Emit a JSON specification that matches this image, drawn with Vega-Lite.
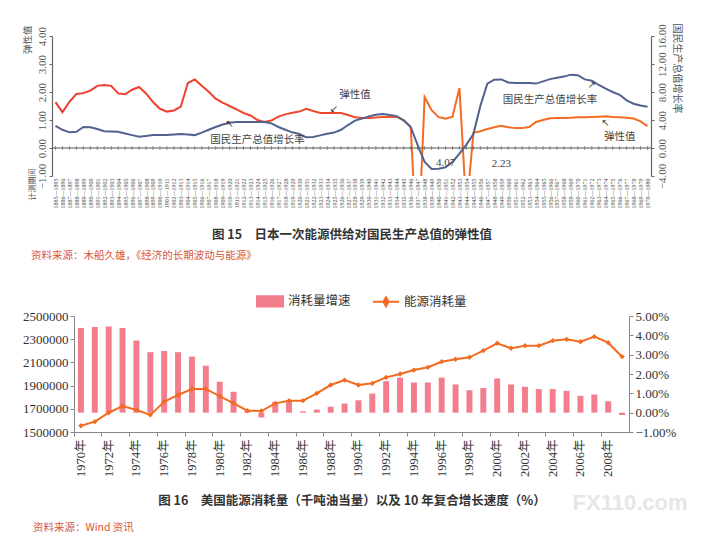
{
  "$schema": "https://vega.github.io/schema/vega-lite/v6.json",
  "background": "white",
  "padding": {"left": 22, "top": 22, "right": 5, "bottom": 5},
  "spacing": 140,
  "bounds": "flush",
  "center": true,
  "resolve": {"scale": {"color": "independent"}, "legend": {"color": "independent"}},
  "config": {
    "view": {"stroke": null},
    "axis": {"labelFont": "Liberation Serif", "titleFont": "Noto Sans CJK SC", "grid": false, "labelFlush": false, "labelOverlap": false},
    "title": {"font": "Noto Sans CJK SC"},
    "legend": {"labelFont": "Noto Sans CJK SC"},
    "text": {"font": "Noto Sans CJK SC"}
  },
  "datasets": {
    "jp": [
      {"p": "1885—1895", "e": 1.64, "g": 3.16},
      {"p": "1886—1896", "e": 1.28, "g": 2.60},
      {"p": "1887—1897", "e": 1.65, "g": 2.24},
      {"p": "1888—1898", "e": 1.93, "g": 2.32},
      {"p": "1889—1899", "e": 1.96, "g": 3.00},
      {"p": "1890—1900", "e": 2.05, "g": 2.96},
      {"p": "1891—1901", "e": 2.22, "g": 2.72},
      {"p": "1892—1902", "e": 2.25, "g": 2.40},
      {"p": "1893—1903", "e": 2.22, "g": 2.36},
      {"p": "1894—1904", "e": 1.95, "g": 2.32},
      {"p": "1895—1905", "e": 1.92, "g": 2.08},
      {"p": "1896—1906", "e": 2.08, "g": 1.84},
      {"p": "1897—1907", "e": 2.18, "g": 1.60},
      {"p": "1898—1908", "e": 1.95, "g": 1.72},
      {"p": "1899—1909", "e": 1.64, "g": 1.84},
      {"p": "1900—1910", "e": 1.40, "g": 1.84},
      {"p": "1901—1911", "e": 1.30, "g": 1.84},
      {"p": "1902—1912", "e": 1.34, "g": 1.92},
      {"p": "1903—1913", "e": 1.48, "g": 2.00},
      {"p": "1904—1914", "e": 2.32, "g": 1.92},
      {"p": "1905—1915", "e": 2.45, "g": 1.84},
      {"p": "1906—1916", "e": 2.22, "g": 2.20},
      {"p": "1907—1917", "e": 2.01, "g": 2.60},
      {"p": "1908—1918", "e": 1.76, "g": 3.00},
      {"p": "1909—1919", "e": 1.62, "g": 3.36},
      {"p": "1910—1920", "e": 1.50, "g": 3.60},
      {"p": "1911—1921", "e": 1.38, "g": 3.72},
      {"p": "1912—1922", "e": 1.25, "g": 3.72},
      {"p": "1913—1923", "e": 1.16, "g": 3.72},
      {"p": "1914—1924", "e": 1.00, "g": 3.72},
      {"p": "1915—1925", "e": 0.93, "g": 3.72},
      {"p": "1916—1926", "e": 0.98, "g": 3.52},
      {"p": "1917—1927", "e": 1.12, "g": 3.00},
      {"p": "1918—1928", "e": 1.20, "g": 2.60},
      {"p": "1919—1929", "e": 1.26, "g": 2.24},
      {"p": "1920—1930", "e": 1.30, "g": 2.00},
      {"p": "1921—1931", "e": 1.40, "g": 1.52},
      {"p": "1922—1932", "e": 1.32, "g": 1.56},
      {"p": "1923—1933", "e": 1.25, "g": 1.80},
      {"p": "1924—1934", "e": 1.25, "g": 2.04},
      {"p": "1925—1935", "e": 1.25, "g": 2.20},
      {"p": "1926—1936", "e": 1.25, "g": 2.60},
      {"p": "1927—1937", "e": 1.18, "g": 3.28},
      {"p": "1928—1938", "e": 1.10, "g": 3.92},
      {"p": "1929—1939", "e": 1.07, "g": 4.20},
      {"p": "1930—1940", "e": 1.07, "g": 4.52},
      {"p": "1931—1941", "e": 1.09, "g": 4.76},
      {"p": "1932—1942", "e": 1.11, "g": 4.84},
      {"p": "1933—1943", "e": 1.11, "g": 4.72},
      {"p": "1934—1944", "e": 1.11, "g": 4.56},
      {"p": "1935—1945", "e": 1.00, "g": 3.92},
      {"p": "1936—1946", "e": 0.75, "g": 3.00},
      {"p": "1937—1947", "e": -4.07, "g": 0.40},
      {"p": "1938—1948", "e": 1.82, "g": -2.00},
      {"p": "1939—1949", "e": 1.35, "g": -3.00},
      {"p": "1940—1950", "e": 1.10, "g": -2.96},
      {"p": "1941—1951", "e": 1.05, "g": -2.76},
      {"p": "1942—1952", "e": 1.12, "g": -2.00},
      {"p": "1943—1953", "e": 2.14, "g": -0.80},
      {"p": "1944—1954", "e": -2.23, "g": 0.48},
      {"p": "1945—1955", "e": 0.54, "g": 2.00},
      {"p": "1946—1956", "e": 0.60, "g": 6.00},
      {"p": "1947—1957", "e": 0.68, "g": 9.20},
      {"p": "1948—1958", "e": 0.74, "g": 9.76},
      {"p": "1949—1959", "e": 0.79, "g": 9.80},
      {"p": "1950—1960", "e": 0.74, "g": 9.36},
      {"p": "1951—1961", "e": 0.71, "g": 9.28},
      {"p": "1952—1962", "e": 0.71, "g": 9.28},
      {"p": "1953—1963", "e": 0.75, "g": 9.28},
      {"p": "1954—1964", "e": 0.93, "g": 9.20},
      {"p": "1955—1965", "e": 1.00, "g": 9.52},
      {"p": "1956—1966", "e": 1.06, "g": 9.84},
      {"p": "1957—1967", "e": 1.07, "g": 10.04},
      {"p": "1958—1968", "e": 1.07, "g": 10.20},
      {"p": "1959—1969", "e": 1.08, "g": 10.48},
      {"p": "1960—1970", "e": 1.10, "g": 10.40},
      {"p": "1961—1971", "e": 1.10, "g": 9.80},
      {"p": "1962—1972", "e": 1.11, "g": 9.60},
      {"p": "1963—1973", "e": 1.12, "g": 9.00},
      {"p": "1964—1974", "e": 1.13, "g": 8.48},
      {"p": "1965—1975", "e": 1.11, "g": 8.00},
      {"p": "1966—1976", "e": 1.10, "g": 7.60},
      {"p": "1967—1977", "e": 1.08, "g": 6.80},
      {"p": "1968—1978", "e": 1.05, "g": 6.32},
      {"p": "1969—1979", "e": 0.95, "g": 6.08},
      {"p": "1970—1980", "e": 0.78, "g": 5.88}
    ],
    "us": [
      {"year": 1970, "rate": 4.38, "cons": 1554000},
      {"year": 1971, "rate": 4.43, "cons": 1589000},
      {"year": 1972, "rate": 4.46, "cons": 1666000},
      {"year": 1973, "rate": 4.38, "cons": 1724000},
      {"year": 1974, "rate": 3.73, "cons": 1690000},
      {"year": 1975, "rate": 3.13, "cons": 1647000},
      {"year": 1976, "rate": 3.19, "cons": 1761000},
      {"year": 1977, "rate": 3.13, "cons": 1819000},
      {"year": 1978, "rate": 2.90, "cons": 1871000},
      {"year": 1979, "rate": 2.43, "cons": 1871000},
      {"year": 1980, "rate": 1.60, "cons": 1810000},
      {"year": 1981, "rate": 1.08, "cons": 1747000},
      {"year": 1982, "rate": 0.10, "cons": 1684000},
      {"year": 1983, "rate": -0.25, "cons": 1681000},
      {"year": 1984, "rate": 0.56, "cons": 1747000},
      {"year": 1985, "rate": 0.59, "cons": 1770000},
      {"year": 1986, "rate": 0.07, "cons": 1770000},
      {"year": 1987, "rate": 0.16, "cons": 1833000},
      {"year": 1988, "rate": 0.31, "cons": 1905000},
      {"year": 1989, "rate": 0.47, "cons": 1948000},
      {"year": 1990, "rate": 0.64, "cons": 1905000},
      {"year": 1991, "rate": 0.99, "cons": 1920000},
      {"year": 1992, "rate": 1.63, "cons": 1971000},
      {"year": 1993, "rate": 1.81, "cons": 2000000},
      {"year": 1994, "rate": 1.56, "cons": 2034000},
      {"year": 1995, "rate": 1.56, "cons": 2058000},
      {"year": 1996, "rate": 1.81, "cons": 2106000},
      {"year": 1997, "rate": 1.46, "cons": 2127000},
      {"year": 1998, "rate": 1.16, "cons": 2144000},
      {"year": 1999, "rate": 1.28, "cons": 2201000},
      {"year": 2000, "rate": 1.77, "cons": 2265000},
      {"year": 2001, "rate": 1.46, "cons": 2222000},
      {"year": 2002, "rate": 1.34, "cons": 2244000},
      {"year": 2003, "rate": 1.22, "cons": 2244000},
      {"year": 2004, "rate": 1.22, "cons": 2287000},
      {"year": 2005, "rate": 1.13, "cons": 2299000},
      {"year": 2006, "rate": 0.87, "cons": 2278000},
      {"year": 2007, "rate": 0.94, "cons": 2322000},
      {"year": 2008, "rate": 0.59, "cons": 2270000},
      {"year": 2009, "rate": -0.12, "cons": 2149000}
    ]
  },
  "vconcat": [
    {
      "width": 599,
      "height": 140,
      "data": {"name": "jp"},
      "title": {
        "text": "资料来源：木船久雄，《经济的长期波动与能源》",
        "orient": "bottom",
        "anchor": "start",
        "frame": "group",
        "dx": -21,
        "offset": 10,
        "fontSize": 10.5,
        "fontWeight": "normal",
        "color": "#d9543c"
      },
      "layer": [
        {
          "mark": {
            "type": "line",
            "strokeWidth": 2,
            "clip": true,
            "color": {
              "gradient": "linear",
              "x1": 0, "y1": 0, "x2": 1, "y2": 0,
              "stops": [
                {"offset": 0, "color": "#ee3b30"},
                {"offset": 0.52, "color": "#f04a2c"},
                {"offset": 0.6, "color": "#f36a22"},
                {"offset": 1, "color": "#f36d20"}
              ]
            }
          },
          "encoding": {
            "x": {
              "field": "p",
              "type": "ordinal",
              "scale": {"type": "point", "padding": 0.5},
              "axis": {
                "title": "图 15　日本一次能源供给对国民生产总值的弹性值",
                "titleFontSize": 12.5,
                "titleFontWeight": "bold",
                "titleColor": "#333",
                "titlePadding": 20,
                "labelAngle": 270,
                "labelFontSize": 6,
                "labelColor": "#444",
                "labelPadding": 2,
                "ticks": false,
                "domain": false
              }
            },
            "y": {
              "field": "e",
              "type": "quantitative",
              "scale": {"domain": [-1, 4], "nice": false, "zero": false},
              "axis": {
                "orient": "left",
                "values": [-1, 0, 1, 2, 3, 4],
                "format": ".2f",
                "labelAngle": 270,
                "labelAlign": "center",
                "labelFontSize": 11,
                "labelColor": "#555",
                "labelPadding": 2,
                "tickSize": 3,
                "tickColor": "#666",
                "domainColor": "#666",
                "domainWidth": 1.2,
                "title": "弹性值",
                "titleAnchor": "end",
                "titleAlign": "right",
                "titleY": -11,
                "titleFontSize": 9.5,
                "titleFontWeight": "normal",
                "titleColor": "#555",
                "titlePadding": 4
              }
            }
          }
        },
        {
          "mark": {"type": "line", "color": "#51628f", "strokeWidth": 2},
          "encoding": {
            "x": {"field": "p", "type": "ordinal"},
            "y": {
              "field": "g",
              "type": "quantitative",
              "scale": {"domain": [-4, 16], "nice": false, "zero": false},
              "axis": {
                "orient": "right",
                "values": [-4, 0, 4, 8, 12, 16],
                "format": ".2f",
                "labelAngle": 270,
                "labelAlign": "center",
                "labelFontSize": 11,
                "labelColor": "#555",
                "labelPadding": 2,
                "tickSize": 3,
                "tickColor": "#666",
                "domainColor": "#666",
                "domainWidth": 1.2,
                "title": "国民生产总值增长率",
                "titleAnchor": "end",
                "titleAlign": "left",
                "titleY": -13,
                "titleFontSize": 10,
                "titleFontWeight": "normal",
                "titleColor": "#555",
                "titlePadding": 4
              }
            }
          }
        },
        {
          "layer": [
            {
              "data": {"values": [{}]},
              "mark": {"type": "rule", "color": "#555", "strokeWidth": 1.2},
              "encoding": {
                "y": {
                  "datum": 0,
                  "type": "quantitative",
                  "scale": {"domain": [-1, 4], "nice": false, "zero": false},
                  "axis": {
                    "orient": "left",
                    "labels": false,
                    "ticks": false,
                    "domain": false,
                    "title": "计测期间",
                    "titleAnchor": "start",
                    "titleAlign": "left",
                    "titleY": 164,
                    "titleFontSize": 8,
                    "titleFontWeight": "normal",
                    "titleColor": "#555",
                    "titlePadding": 16
                  }
                }
              }
            },
            {
              "mark": {"type": "tick", "orient": "vertical", "size": 4, "thickness": 1, "color": "#666"},
              "encoding": {
                "x": {"field": "p", "type": "ordinal"},
                "y": {"datum": 0}
              }
            },
            {
              "data": {"values": [{}]},
              "mark": {"type": "text", "fontSize": 10.5, "color": "#444"},
              "encoding": {
                "x": {"datum": "1928—1938", "type": "ordinal"},
                "y": {"datum": 1.89},
                "text": {"value": "弹性值"}
              }
            },
            {
              "data": {"values": [{}]},
              "mark": {"type": "text", "fontSize": 10.5, "color": "#444"},
              "encoding": {
                "x": {"datum": "1914—1924", "type": "ordinal"},
                "y": {"datum": 0.29},
                "text": {"value": "国民生产总值增长率"}
              }
            },
            {
              "data": {"values": [{}]},
              "mark": {"type": "text", "fontSize": 10.5, "color": "#444"},
              "encoding": {
                "x": {"datum": "1956—1966", "type": "ordinal"},
                "y": {"datum": 1.71},
                "text": {"value": "国民生产总值增长率"}
              }
            },
            {
              "data": {"values": [{}]},
              "mark": {"type": "text", "fontSize": 10.5, "color": "#444"},
              "encoding": {
                "x": {"datum": "1966—1976", "type": "ordinal"},
                "y": {"datum": 0.39},
                "text": {"value": "弹性值"}
              }
            },
            {
              "data": {"values": [{}]},
              "mark": {"type": "text", "fontSize": 11, "font": "Liberation Serif", "color": "#444"},
              "encoding": {
                "x": {"datum": "1941—1951", "type": "ordinal"},
                "y": {"datum": -0.54},
                "text": {"value": "4.07"}
              }
            },
            {
              "data": {"values": [{}]},
              "mark": {"type": "text", "fontSize": 11, "font": "Liberation Serif", "color": "#444"},
              "encoding": {
                "x": {"datum": "1949—1959", "type": "ordinal"},
                "y": {"datum": -0.57},
                "text": {"value": "2.23"}
              }
            },
            {
              "data": {"values": [{}]},
              "mark": {"type": "text", "fontSize": 10, "font": "DejaVu Sans", "color": "#333"},
              "encoding": {
                "x": {"datum": "1925—1935", "type": "ordinal"},
                "y": {"datum": 1.4},
                "text": {"value": "↙"}
              }
            },
            {
              "data": {"values": [{}]},
              "mark": {"type": "text", "fontSize": 10, "font": "DejaVu Sans", "color": "#333"},
              "encoding": {
                "x": {"datum": "1910—1920", "type": "ordinal"},
                "y": {"datum": 0.84},
                "text": {"value": "↖"}
              }
            },
            {
              "data": {"values": [{}]},
              "mark": {"type": "text", "fontSize": 10, "font": "DejaVu Sans", "color": "#333"},
              "encoding": {
                "x": {"datum": "1962—1972", "type": "ordinal"},
                "y": {"datum": 2.25},
                "text": {"value": "↗"}
              }
            },
            {
              "data": {"values": [{}]},
              "mark": {"type": "text", "fontSize": 10, "font": "DejaVu Sans", "color": "#333"},
              "encoding": {
                "x": {"datum": "1964—1974", "type": "ordinal"},
                "y": {"datum": 0.9},
                "text": {"value": "↖"}
              }
            }
          ]
        }
      ],
      "resolve": {"scale": {"y": "independent"}, "axis": {"y": "independent"}}
    },
    {
      "width": 555,
      "height": 116,
      "data": {"name": "us"},
      "title": {
        "text": "资料来源：Wind 资讯",
        "orient": "bottom",
        "anchor": "start",
        "frame": "group",
        "dx": -41,
        "offset": 9,
        "fontSize": 10.5,
        "fontWeight": "normal",
        "color": "#d9543c"
      },
      "layer": [
        {
          "mark": {"type": "bar", "width": {"band": 0.43}},
          "encoding": {
            "x": {
              "field": "year",
              "type": "ordinal",
              "scale": {"paddingInner": 0, "paddingOuter": 0},
              "axis": {
                "values": [1970, 1972, 1974, 1976, 1978, 1980, 1982, 1984, 1986, 1988, 1990, 1992, 1994, 1996, 1998, 2000, 2002, 2004, 2006, 2008],
                "bandPosition": 0,
                "labelExpr": "datum.label + '年'",
                "labelAngle": 270,
                "labelFontSize": 12.5,
                "labelFont": "Liberation Serif, Noto Sans CJK SC",
                "labelColor": "#333",
                "labelPadding": 3,
                "tickSize": 4,
                "tickColor": "#888",
                "domainColor": "#888",
                "title": "图 16　美国能源消耗量（千吨油当量）以及 10 年复合增长速度（%）",
                "titleFontSize": 12.5,
                "titleFontWeight": "bold",
                "titleColor": "#333",
                "titlePadding": 18
              }
            },
            "y": {
              "field": "rate",
              "type": "quantitative",
              "scale": {"domain": [-1, 5], "nice": false},
              "axis": {
                "orient": "right",
                "values": [-1, 0, 1, 2, 3, 4, 5],
                "labelExpr": "format(datum.value, '.2f') + '%'",
                "labelFontSize": 13,
                "labelColor": "#333",
                "tickSize": 4,
                "tickColor": "#888",
                "domainColor": "#888",
                "title": null
              }
            },
            "color": {
              "datum": "消耗量增速",
              "scale": {"domain": ["消耗量增速", "能源消耗量"], "range": ["#f27d8d", "#f26b21"]},
              "legend": {
                "orient": "none",
                "legendX": 182,
                "legendY": -29,
                "direction": "horizontal",
                "title": null,
                "padding": 0,
                "labelFontSize": 12.5,
                "labelColor": "#333",
                "labelOffset": 4,
                "columnPadding": 18,
                "symbolSize": 676,
                "symbolStrokeWidth": 2,
                "encode": {
                  "symbols": {
                    "update": {
                      "shape": {"signal": "datum.value === '消耗量增速' ? 'M-1,-0.4H1V0.4H-1Z' : 'M-1,0H1M0,-0.35L0.2,0L0,0.35L-0.2,0Z'"},
                      "fill": {"signal": "datum.value === '消耗量增速' ? '#f27d8d' : '#f26b21'"},
                      "stroke": {"signal": "datum.value === '消耗量增速' ? 'transparent' : '#f26b21'"},
                      "strokeWidth": {"value": 2},
                      "opacity": {"value": 1}
                    }
                  }
                }
              }
            }
          }
        },
        {
          "mark": {"type": "line", "strokeWidth": 2, "point": {"shape": "diamond", "size": 28, "filled": true}},
          "encoding": {
            "x": {"field": "year", "type": "ordinal"},
            "y": {
              "field": "cons",
              "type": "quantitative",
              "scale": {"domain": [1500000, 2500000], "nice": false, "zero": false},
              "axis": {
                "orient": "left",
                "values": [1500000, 1700000, 1900000, 2100000, 2300000, 2500000],
                "format": "d",
                "labelFontSize": 13,
                "labelColor": "#333",
                "tickSize": 4,
                "tickColor": "#888",
                "domainColor": "#888",
                "title": null
              }
            },
            "color": {"datum": "能源消耗量"}
          }
        },
        {
          "data": {"values": [{}]},
          "mark": {"type": "text", "fontSize": 22, "fontWeight": "bold", "font": "Liberation Sans", "color": "#e6e6e6", "dx": 8},
          "encoding": {
            "x": {"datum": 2009, "type": "ordinal"},
            "y": {"datum": -4.65, "scale": {"domain": [-1, 5], "nice": false}, "axis": null},
            "text": {"value": "FX110.com"}
          }
        }
      ],
      "resolve": {"scale": {"y": "independent"}}
    }
  ]
}
